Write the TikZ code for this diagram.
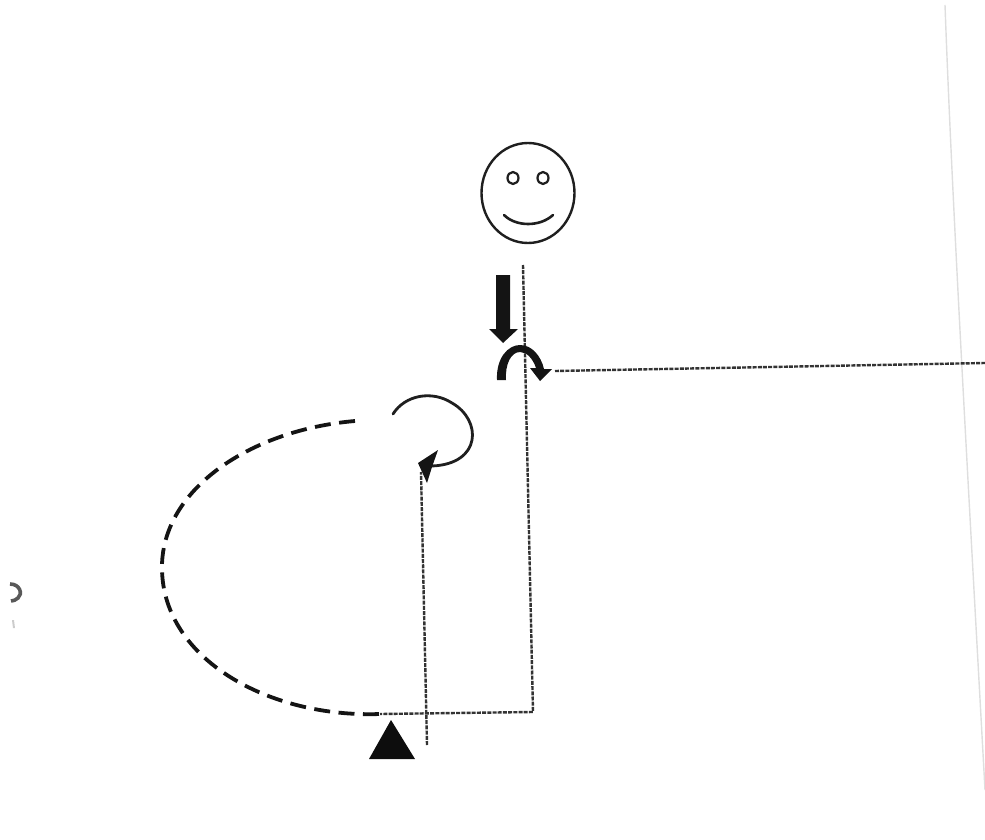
\documentclass[tikz,border=0pt]{standalone}
\usetikzlibrary{calc}
\begin{document}
\begin{tikzpicture}[x=1pt,y=-1pt,
  fine/.style={line width=2.4pt,dash pattern=on 4pt off 1.2pt,black!80},
  bold/.style={line width=3.8pt,dash pattern=on 16pt off 8.5pt,black!92},
  ink/.style={line width=2.4pt,black!88,line cap=round}]
\useasboundingbox (0,0) rectangle (985,840);
% scan edge
\draw[black!13,line width=1.4pt] (945,5) .. controls (952,200) and (968,480) .. (985,790);
% margin fragments
\draw[black!65,line width=3.6pt] (10,584) .. controls (20,584) and (23,594) .. (18,598) .. controls (16,600) and (13,601) .. (11,601);
\fill[black!20] (12,620) -- (14,620) -- (15,628) -- (13,628) -- cycle;
% named points
\coordinate (arcstart) at (355,421);
\coordinate (corner) at (533,712);
\coordinate (junction) at (380,714);
\coordinate (spine) at (523,265);
\coordinate (exit) at (555,371);
\coordinate (edge) at (985,363);
\coordinate (stem) at (427,745);
\coordinate (stemtop) at (421,472);
% face
\draw[ink] (528,193) ellipse [x radius=46.5,y radius=50];
\draw[ink,line width=2.2pt] (513,178) ellipse [x radius=5.5,y radius=6];
\draw[ink,line width=2.2pt] (543,178) ellipse [x radius=5.5,y radius=6];
\draw[ink,line width=2.6pt] (504,215) .. controls (516,227) and (540,227) .. (553,215);
% fine dashed lines
\draw[fine] (spine) -- (corner) -- (junction);
\draw[fine] (exit) -- (edge);
\draw[fine] (stem) -- (stemtop);
% big dashed arc
\draw[bold] (arcstart) .. controls (250,430) and (160,490) .. (162,570)
  .. controls (164,660) and (270,718) .. (junction);
% thick straight arrow
\fill[black!92] (496,275) -- (510,275) -- (510,329) -- (518,329) -- (503,343) -- (489,329) -- (496,329) -- cycle;
% thick curved arrow
\fill[black!92] (497,380) .. controls (496,358) and (508,345) .. (520,345)
  .. controls (532,345) and (541,356) .. (544,369) -- (552,369) -- (540,381) -- (530,368) -- (536,368)
  .. controls (533,359) and (527,352) .. (520,352)
  .. controls (511,352) and (505,364) .. (506,380) -- cycle;
% spiral
\draw[ink,line width=2.8pt] (393,414) .. controls (405,395) and (432,390) .. (452,403)
  .. controls (482,420) and (482,464) .. (432,466);
\fill[black!92] (438,450) -- (418,463) -- (427,483) -- (432,467) -- cycle;
% triangle
\fill[black!95] (391,720) -- (415,759) -- (369,759) -- cycle;
\end{tikzpicture}
\end{document}
